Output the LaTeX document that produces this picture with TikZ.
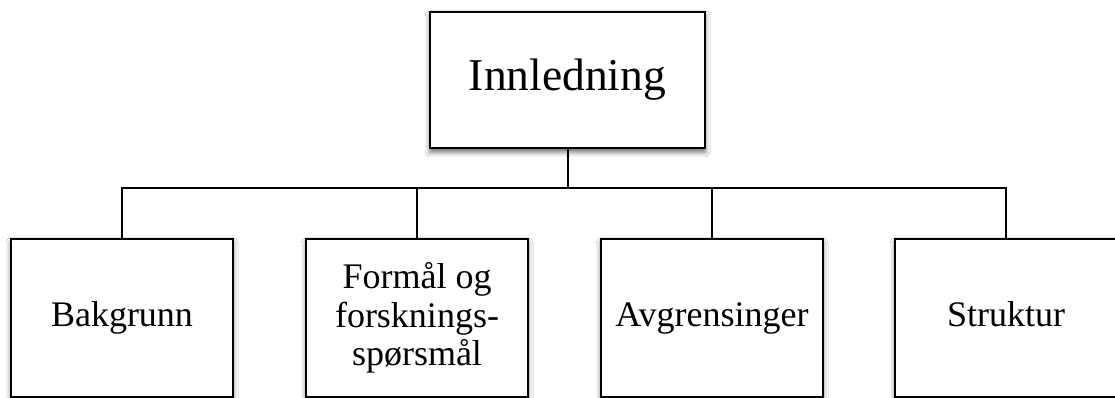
\documentclass[tikz,border=0pt]{standalone}
\usepackage{fontspec}
\setmainfont{Liberation Serif}
\usetikzlibrary{shadows.blur}
\begin{document}
\begin{tikzpicture}[x=1pt,y=1pt,
  box/.style={draw=black, line width=2.3pt, fill=white, inner sep=0pt,
    blur shadow={shadow xshift=0pt, shadow yshift=-4pt, shadow blur radius=5pt, shadow opacity=60}},
  topbox/.style={box, minimum width=275pt, minimum height=136pt,
    font=\fontsize{45.5}{50}\selectfont, text height=31pt, text depth=10pt},
  subbox/.style={box, minimum width=222pt, minimum height=158pt,
    font=\fontsize{36}{38.5}\selectfont},
  onelinebox/.style={subbox, text height=25pt, text depth=8pt},
  linesbox/.style={subbox, align=center},
  link/.style={draw=black, line width=2pt}]
\useasboundingbox (0,0) rectangle (1115,398);
\fill[white] (0,0) rectangle (1115,398);

% headline box
\node[topbox] (top) at (567.5,318) {Innledning};

% the four sections
\node[onelinebox] (b1) at (122,80) {Bakgrunn};
\node[linesbox] (b2) at (417,80) {Formål og\\forsknings-\\spørsmål};
\node[onelinebox] (b3) at (712,80) {Avgrensinger};
\node[onelinebox] (b4) at (1006,80) {Struktur};

% horizontal bus level
\coordinate (bus) at (0,210);

% connectors
\draw[link] (top.south) -- (top.south |- bus);
\draw[link] (b1.north) -- (b1.north |- bus) -- (b4.north |- bus) -- (b4.north);
\draw[link] (b2.north) -- (b2.north |- bus);
\draw[link] (b3.north) -- (b3.north |- bus);
\end{tikzpicture}
\end{document}
